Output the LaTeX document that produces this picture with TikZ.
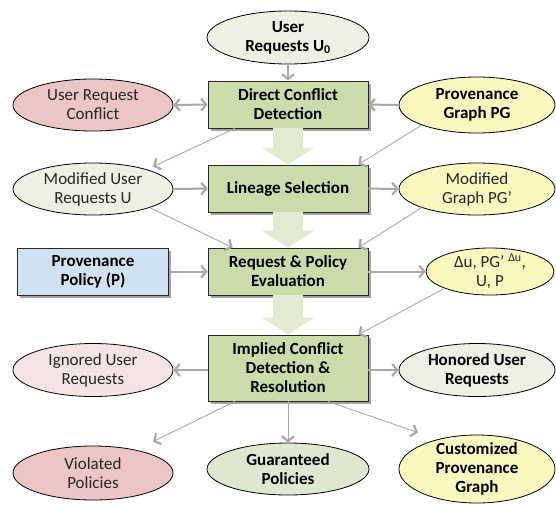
\documentclass[tikz,border=0pt]{standalone}
\usepackage{fontspec}
\setmainfont{Carlito}
\usetikzlibrary{shapes.geometric, arrows.meta, shadows}

\definecolor{boxgreen}{RGB}{203,220,170}
\definecolor{flowgreen}{RGB}{226,235,210}
\definecolor{palegreen}{RGB}{237,241,228}
\definecolor{midgreen}{RGB}{222,231,207}
\definecolor{rose}{RGB}{236,197,197}
\definecolor{palerose}{RGB}{245,228,228}
\definecolor{paleyellow}{RGB}{250,248,190}
\definecolor{paleblue}{RGB}{208,225,242}
\definecolor{linkgray}{RGB}{168,168,168}

\begin{document}
\begin{tikzpicture}[x=1pt, y=-1pt,
	box/.style  = {rectangle, draw=black!85, fill=boxgreen, line width=0.8pt, minimum width=160, minimum height=47, align=center, inner sep=2pt, font=\fontsize{17}{19}\selectfont\bfseries, drop shadow={shadow xshift=2.5pt, shadow yshift=-2.5pt, opacity=0.45, fill=black!80}},
	oval/.style = {ellipse, draw=black, line width=0.8pt, minimum width=160, minimum height=52, align=center, inner xsep=0pt, inner ysep=-3pt, text=black!85, font=\fontsize{17}{19}\selectfont},
	bold/.style = {text=black, font=\fontsize{17}{19}\selectfont\bfseries},
	>={Straight Barb[length=5pt, width=12pt, line width=2.2pt]},
	link/.style = {->, draw=linkgray, line width=2pt},
	tlink/.style = {->, draw=linkgray, line width=0.9pt},
	flow/.style = {-{Triangle[length=17pt, width=52pt, line width=0pt]}, draw=flowgreen, line width=30pt}
	]
	\useasboundingbox (0, 0) rectangle (556, 504);
	
	% ===== ===== ===== ===== =====
	
	% Nodes
	\node[oval, bold, fill=palegreen, minimum width=162, minimum height=53]	(u0)	at	(288, 37.5)	{User\\Requests U\textsubscript{0}};
	
	\node[box]	(dcd)	at	(288, 104.5)	{Direct Conflict\\Detection};
	\node[oval, fill=rose]	(urc)	at	(93, 105)	{User Request\\Conflict};
	\node[oval, bold, fill=paleyellow, minimum width=156, minimum height=56]	(pg)	at	(477, 105)	{Provenance\\Graph PG};
	
	\node[box]	(lin)	at	(288, 188.5)	{Lineage Selection};
	\node[oval, fill=palegreen]	(modu)	at	(93, 189)	{Modified User\\Requests U};
	\node[oval, fill=paleyellow, minimum width=156]	(pgp)	at	(477, 189)	{Modified\\Graph PG'};
	
	\node[box]	(req)	at	(288, 271.5)	{Request \& Policy\\Evaluation};
	\node[box, fill=paleblue, minimum width=151]	(pol)	at	(93, 271.5)	{Provenance\\Policy (P)};
	\node[oval, fill=paleyellow, minimum width=128, minimum height=47]	(delta)	at	(490, 271.5)	{Δu, PG’ \textsuperscript{Δu},\\U, P};
	
	\node[box, minimum height=66]	(imp)	at	(288, 368)	{Implied Conflict\\Detection \&\\Resolution};
	\node[oval, fill=palerose, minimum height=53]	(ign)	at	(93, 370)	{Ignored User\\Requests};
	\node[oval, bold, fill=palegreen, minimum width=156, minimum height=53]	(hon)	at	(477, 370)	{Honored User\\Requests};
	
	\node[oval, fill=rose, minimum height=54]	(vio)	at	(93, 473)	{Violated\\Policies};
	\node[oval, bold, fill=midgreen, minimum width=162]	(gua)	at	(288, 469)	{Guaranteed\\Policies};
	\node[oval, bold, fill=paleyellow, minimum width=156, minimum height=68]	(cus)	at	(477, 469)	{Customized\\Provenance\\Graph};
	
	
	
	% Flow
	\draw[flow]	(dcd)	--	(lin);
	\draw[flow]	(lin)	--	(req);
	\draw[flow]	(req)	--	(imp);
	
	
	
	% Lines
	\draw[link]	(u0)	--	(dcd);
	\draw[link, <->]	(urc)	--	(dcd);
	\draw[link]	(pg)	--	(dcd);
	\draw[tlink]	([xshift=-53]dcd.south)	--	([shift={(60,4)}]modu.north);
	\draw[tlink]	(pg.south west)	--	([xshift=-10]lin.north east);
	
	\draw[link]	(modu)	--	(lin);
	\draw[link]	(lin)	--	(pgp);
	\draw[tlink]	(modu.south east)	--	([xshift=25]req.north west);
	\draw[tlink]	(pgp.south west)	--	([xshift=-10]req.north east);
	
	\draw[link]	(pol)	--	(req);
	\draw[link]	(req)	--	(delta);
	\draw[tlink]	(delta.south west)	--	([xshift=-10]imp.north east);
	
	\draw[link]	(imp.west |- ign)	--	(ign);
	\draw[link]	(imp.east |- hon)	--	(hon);
	\draw[tlink]	([xshift=-53]imp.south)	--	([shift={(60,-4)}]vio.north);
	\draw[tlink]	(imp)	--	(gua);
	\draw[tlink]	([xshift=40]imp.south)	--	([shift={(-59,-2)}]cus.north);
	
\end{tikzpicture}
\end{document}
